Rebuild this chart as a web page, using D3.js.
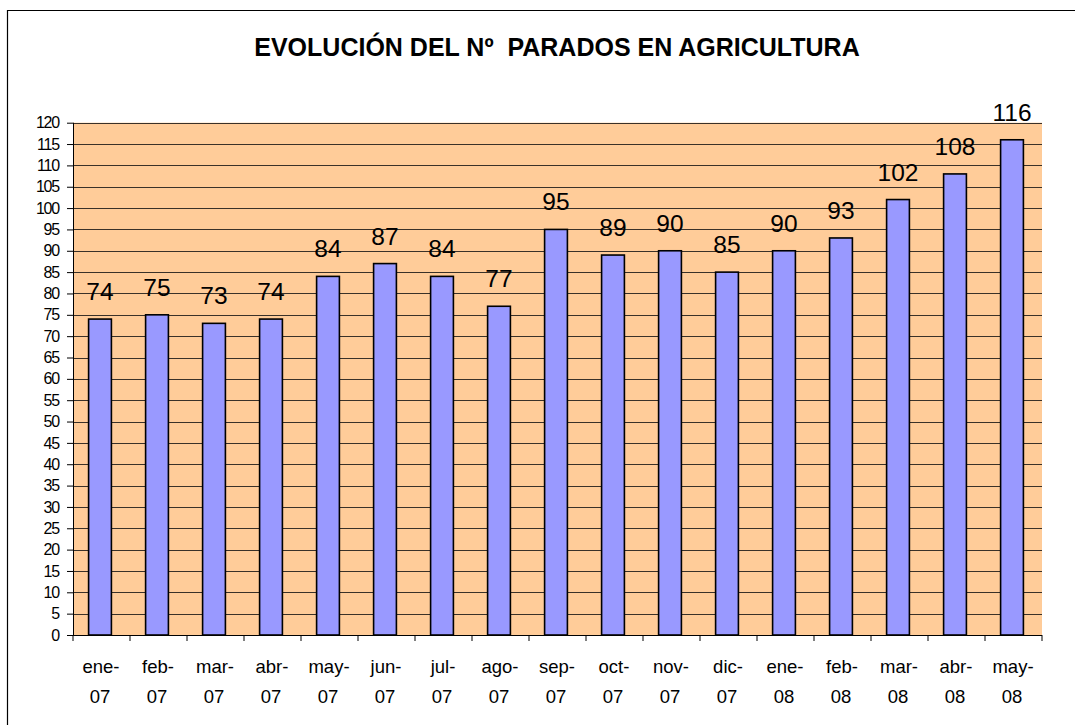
<!DOCTYPE html>
<html>
<head>
<meta charset="utf-8">
<script src="https://cdn.jsdelivr.net/npm/d3@7"></script>
<style>
  body { margin: 0; background: #fff; }
  svg { display: block; font-family: Arial, "Liberation Sans", sans-serif; }
</style>
</head>
<body>
<svg id="chart" width="1075" height="728"></svg>
<script>
// datos
const meses = ["ene-07", "feb-07", "mar-07", "abr-07", "may-07", "jun-07", "jul-07", "ago-07",
               "sep-07", "oct-07", "nov-07", "dic-07", "ene-08", "feb-08", "mar-08", "abr-08", "may-08"];
const parados = [74, 75, 73, 74, 84, 87, 84, 77, 95, 89, 90, 85, 90, 93, 102, 108, 116];
const yTicks = d3.range(0, 121, 5);

const titulo = "EVOLUCIÓN DEL Nº  PARADOS EN AGRICULTURA";

function drawChart() {
    let svg = d3.select("#chart");

    // marco exterior (solo arriba e izquierda visibles)
    svg.append("path")
        .attr("d", "M7.5,725V10.5H1075")
        .attr("fill", "none")
        .attr("stroke", "#000")
        .attr("stroke-width", 1.2);

    let left = 73, right = 1042, top = 122.7, bottom = 635;

    let x = d3.scaleBand()
        .domain(meses)
        .range([left - 1.5, right - 1.5])
        .paddingInner(0.6)
        .paddingOuter(0.3);

    let y = d3.scaleLinear()
        .domain([0, 120])
        .range([bottom, top]);

    // fondo del área de trazado
    svg.append("rect")
        .attr("x", left).attr("y", top)
        .attr("width", right - left).attr("height", bottom - top)
        .attr("fill", "#FFCC99");

    // líneas de cuadrícula
    svg.append("g")
        .selectAll("line")
        .data(yTicks.filter(d => d > 0))
        .enter()
        .append("line")
        .attr("x1", left).attr("x2", right)
        .attr("y1", d => Math.round(y(d)) + 0.5)
        .attr("y2", d => Math.round(y(d)) + 0.5)
        .attr("stroke", "#3a3128")
        .attr("stroke-width", 1);

    // barras
    svg.append("g")
        .selectAll("rect")
        .data(parados)
        .enter()
        .append("rect")
        .attr("x", (d, i) => x(meses[i]))
        .attr("y", d => y(d))
        .attr("width", x.bandwidth())
        .attr("height", d => y(0) - y(d))
        .attr("fill", "#9999FF")
        .attr("stroke", "#000")
        .attr("stroke-width", 1.6);

    // etiquetas de valor
    svg.append("g")
        .selectAll("text")
        .data(parados)
        .enter()
        .append("text")
        .attr("x", (d, i) => x(meses[i]) + x.bandwidth() / 2)
        .attr("y", d => y(d) - 19)
        .attr("text-anchor", "middle")
        .attr("font-size", 24.5)
        .attr("fill", "#000")
        .text(d => d);

    // eje Y
    let yAxis = d3.axisLeft(y)
        .tickValues(yTicks)
        .tickSize(6)
        .tickPadding(8);

    let gy = svg.append("g")
        .attr("transform", "translate(" + left + ",0)")
        .call(yAxis);
    gy.select(".domain").attr("stroke", "#000").attr("d", "M0.5," + top + "V" + bottom);
    gy.selectAll(".tick line").attr("stroke", "#000");
    gy.selectAll(".tick text")
        .attr("font-size", 16)
        .attr("letter-spacing", "-1.2px")
        .attr("font-family", "Arial, 'Liberation Sans', sans-serif")
        .attr("fill", "#000");

    // eje X
    let gx = svg.append("g")
        .attr("transform", "translate(0," + bottom + ")");
    gx.append("line")
        .attr("x1", left).attr("x2", right)
        .attr("y1", 0.5).attr("y2", 0.5)
        .attr("stroke", "#000");
    gx.selectAll(".tk")
        .data(d3.range(meses.length + 1))
        .enter()
        .append("line")
        .attr("class", "tk")
        .attr("x1", i => left + (right - left) * i / meses.length)
        .attr("x2", i => left + (right - left) * i / meses.length)
        .attr("y1", 0).attr("y2", 6)
        .attr("stroke", "#000");

    let lbl = gx.selectAll(".lbl")
        .data(meses)
        .enter()
        .append("text")
        .attr("class", "lbl")
        .attr("text-anchor", "middle")
        .attr("font-size", 18.5)
        .attr("fill", "#000");
    lbl.append("tspan")
        .attr("x", d => x(d) + x.bandwidth() / 2 + 1)
        .attr("y", 38)
        .text(d => d.split("-")[0] + "-");
    lbl.append("tspan")
        .attr("x", d => x(d) + x.bandwidth() / 2)
        .attr("y", 68)
        .text(d => d.split("-")[1]);

    // título
    svg.append("text")
        .attr("x", 557)
        .attr("y", 56)
        .attr("text-anchor", "middle")
        .attr("font-size", 25)
        .attr("font-weight", "bold")
        .attr("fill", "#000")
        .style("white-space", "pre")
        .text(titulo);
}

drawChart();
</script>
</body>
</html>
